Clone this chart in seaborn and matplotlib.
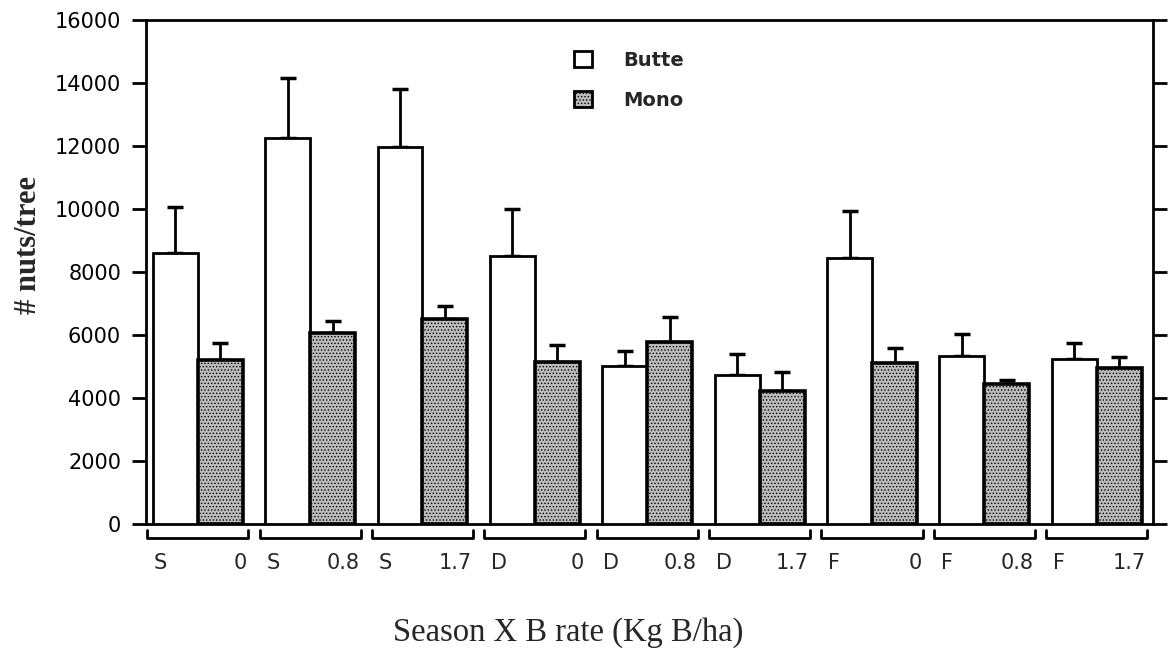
import matplotlib
matplotlib.use("Agg")
import matplotlib.pyplot as plt
import seaborn as sns
import pandas as pd
import numpy as np
from matplotlib.patches import Patch

# ---- data ----
seasons = ['S', 'S', 'S', 'D', 'D', 'D', 'F', 'F', 'F']
rates = ['0', '0.8', '1.7', '0', '0.8', '1.7', '0', '0.8', '1.7']
butte = [8600, 12250, 11970, 8510, 5020, 4730, 8440, 5330, 5240]
butte_err = [1460, 1905, 1840, 1490, 480, 670, 1490, 700, 510]
mono = [5210, 6060, 6510, 5140, 5780, 4220, 5110, 4440, 4950]
mono_err = [540, 380, 410, 540, 790, 600, 480, 130, 350]
cultivars = ['Butte', 'Mono']
yticks = [0, 2000, 4000, 6000, 8000, 10000, 12000, 14000, 16000]

groups = [f"{s} {r}" for s, r in zip(seasons, rates)]
df = pd.DataFrame({
    'group': groups * 2,
    'cultivar': ['Butte'] * len(groups) + ['Mono'] * len(groups),
    'value': butte + mono,
})

sns.set_style("white")
plt.rcParams['font.family'] = ['DejaVu Sans']
plt.rcParams['hatch.linewidth'] = 0.6

fig = plt.figure(figsize=(11.75, 6.51), dpi=100)
ax = fig.add_axes([146 / 1175, 1 - 524 / 651, (1153 - 146) / 1175, (524 - 20) / 651])

sns.barplot(data=df, x='group', y='value', hue='cultivar', order=groups,
            hue_order=cultivars, palette={'Butte': 'white', 'Mono': '#bcbcbc'},
            width=0.8, gap=0, errorbar=None, legend=False, ax=ax,
            edgecolor='black', linewidth=2, zorder=3)

# hatch Mono bars
for bar in ax.containers[1]:
    bar.set_hatch('.....')
    bar.set_linewidth(2.6)

# error bars (upper only)
for cont, errs in zip(ax.containers, [butte_err, mono_err]):
    xs = [b.get_x() + b.get_width() / 2 for b in cont]
    hs = [b.get_height() for b in cont]
    ax.errorbar(xs, hs, yerr=[np.zeros(len(errs)), errs], fmt='none',
                ecolor='black', elinewidth=2, capsize=5.5, capthick=2.5, zorder=2)

ax.set_ylim(0, 16000)
ax.set_xlim(-0.46, 8.5)
ax.set_yticks(yticks)
ax.set_yticklabels([str(t) for t in yticks], fontsize=15)
ax.set_xticks([])
ax.set_xlabel('')
ax.set_ylabel('')
ax.tick_params(axis='y', which='both', left=True, right=True, labelright=False,
               direction='out', length=10, width=2, pad=8, colors='black')
for sp in ax.spines.values():
    sp.set_linewidth(2)
    sp.set_color('black')

# brackets and group labels under the axis
trans = ax.get_xaxis_transform()
for i, (s, r) in enumerate(zip(seasons, rates)):
    x0, x1 = i - 0.45, i + 0.45
    ax.plot([x0, x0, x1, x1], [-0.012, -0.027, -0.027, -0.012], color='black',
            lw=2, transform=trans, clip_on=False)
    ax.text(i - 0.39, -0.077, s, transform=trans, ha='left', va='center', fontsize=15)
    ax.text(i + 0.44, -0.077, r, transform=trans, ha='right', va='center', fontsize=15)

# legend
handles = [Patch(facecolor='white', edgecolor='black', linewidth=2),
           Patch(facecolor='#bcbcbc', edgecolor='black', linewidth=2, hatch='.....')]
ax.legend(handles, cultivars, loc='upper left', bbox_to_anchor=(0.408, 0.973),
          frameon=False, handlelength=0.9, handleheight=0.9,
          handletextpad=1.6, labelspacing=1.05, prop={'weight': 'bold', 'size': 14})

fig.text(29 / 1175, 1 - 245 / 651, '# nuts/tree', rotation=90, ha='center', va='center',
         fontsize=22, fontfamily='Liberation Serif', fontweight='bold')
fig.text(568 / 1175, 1 - 633 / 651, 'Season X B rate (Kg B/ha)', ha='center', va='center',
         fontsize=23.5, fontfamily='Liberation Serif')

fig.savefig('out.png', dpi=100)
